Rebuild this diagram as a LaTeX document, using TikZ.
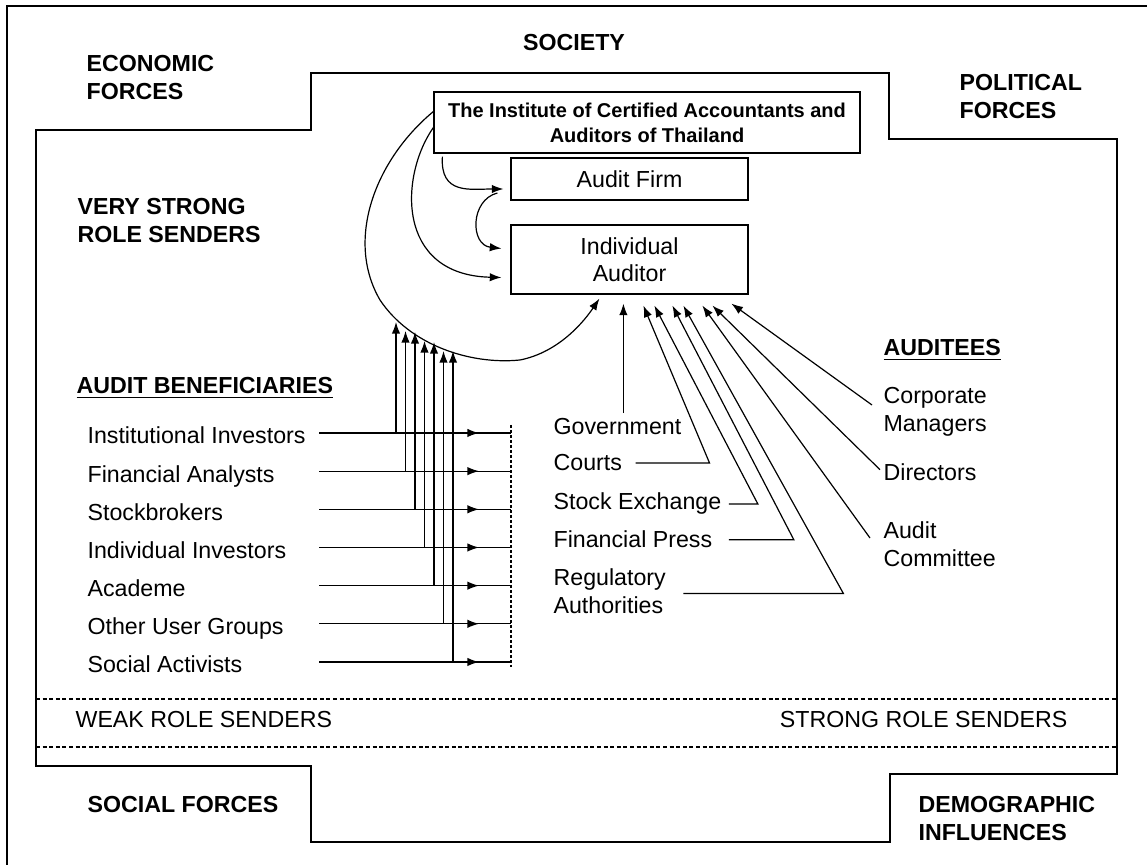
\documentclass[tikz,border=0pt]{standalone}
\usepackage{fontspec}
\setmainfont{Liberation Sans}
\usetikzlibrary{arrows.meta,calc}

\begin{document}
\begin{tikzpicture}[x=0.5pt,y=-0.5pt,line width=0.6pt,>={Latex[length=5.8pt,width=4.2pt]}]
        \tikzstyle{force}=[font=\fontsize{11.6}{14}\selectfont\bfseries,align=left,inner sep=0pt,anchor=west]
        \tikzstyle{member}=[font=\fontsize{11.6}{14}\selectfont,align=left,inner sep=0pt,anchor=base west]
        \tikzstyle{box}=[draw,align=center,inner sep=0pt,font=\fontsize{11.6}{13.5}\selectfont]
        \tikzstyle{link}=[draw,->]
        \tikzstyle{border}=[dash pattern=on 2pt off 1.3pt]
        \useasboundingbox (0,0) rectangle (1147,865);

        % outer frame and society outline
        \draw (1147,6) -- (7,6) -- (7,865);
        \draw (36,130) -- (311,130) -- (311,73) -- (889,73) -- (889,139) -- (1117,139)
          -- (1117,774) -- (890,774) -- (890,842) -- (311,842) -- (311,766) -- (36,766) -- cycle;
        \draw[border] (36,699) -- (1117,699);
        \draw[border] (36,747) -- (1117,747);

        % forces around society
        \node[force,anchor=center] (society) at (574,43) {SOCIETY};
        \node[force] (economic) at (86,77.5) {ECONOMIC\\FORCES};
        \node[force] (political) at (959,97) {POLITICAL\\FORCES};
        \node[force] (social) at (87,805) {SOCIAL FORCES};
        \node[force] (demographic) at (918,819) {DEMOGRAPHIC\\INFLUENCES};
        \node[force] (verystrong) at (77,221) {VERY STRONG\\ROLE SENDERS};
        \node[member,anchor=west] (weak) at (75,720) {WEAK ROLE SENDERS};
        \node[member,anchor=east] (strong) at (1068,720) {STRONG ROLE SENDERS};

        % the profession
        \node[box,minimum width=213pt,minimum height=30.5pt,font=\fontsize{10}{12.5}\selectfont\bfseries] (icaat) at (647,122.5) {The Institute of Certified Accountants and\\Auditors of Thailand};
        \node[box,minimum width=118.5pt,minimum height=21pt] (firm) at (629.5,179) {Audit Firm};
        \node[box,minimum width=118.5pt,minimum height=34.5pt] (auditor) at (629.5,259.5) {Individual\\Auditor};

        \path[link] ($(icaat.south west)+(9,3)$) .. controls (440,195) and (470,189) .. ($(firm.west)+(-7,10)$);
        \path[link] ($(firm.west)+(-13,14)$) .. controls (470,200) and (470,245) .. ($(auditor.west)+(-9,-11)$);
        \path[link] ($(icaat.west)+(0,5)$) .. controls (400,175) and (395,275) .. ($(auditor.west)+(-9,18)$);
        \path[link] ($(icaat.west)+(0,-11)$) .. controls (375,160) and (345,240) .. (380,300)
          .. controls (410,345) and (470,365) .. (520,360) .. controls (560,352) and (585,320) .. ($(auditor.south west)+(89,4)$);

        % audit beneficiaries
        \node[force] (benef) at (76,388) {\underline{AUDIT BENEFICIARIES}};
        \foreach \who [count=\i] in {Institutional Investors,Financial Analysts,Stockbrokers,Individual Investors,Academe,Other User Groups,Social Activists}
        {
          \node[member] (ben\i) at (87,405.8+38.17*\i) {\who};
          \coordinate (from\i) at (319,394.8+38.17*\i);
          \coordinate (end\i) at (511,394.8+38.17*\i);
          \draw (from\i) -- (end\i);
          \path[link] ($(from\i)+(150,0)$) -- ($(from\i)+(160,0)$);
        }
        \foreach \y [count=\i] in {322,331,332,341,342,351,351}
        {
          \coordinate (up\i) at (386.5+9.5*\i,\y);
          \path[link] (from\i -| up\i) -- (up\i);
        }
        \draw[dash pattern=on 1.5pt off 1pt] (end1) ++(0,-8) -- ($(end7)+(0,5)$);

        % strong role senders
        \node[member] (gov) at (553,435) {Government};
        \node[member] (crt) at (553,471) {Courts};
        \node[member] (sx) at (553,510) {Stock Exchange};
        \node[member] (fp) at (553,548) {Financial Press};
        \node[member,anchor=west] (ra) at (553,591.5) {Regulatory\\Authorities};

        \coordinate (tGov) at ($(auditor.south west)+(113,9)$);
        \coordinate (tCrt) at ($(auditor.south west)+(133,11)$);
        \coordinate (tSx) at ($(auditor.south west)+(144,11)$);
        \coordinate (tFp) at ($(auditor.south west)+(162,11)$);
        \coordinate (tRa) at ($(auditor.south west)+(173,11)$);
        \coordinate (tAc) at ($(auditor.south west)+(192,11)$);
        \coordinate (tDir) at ($(auditor.south west)+(202,11)$);
        \coordinate (tCm) at ($(auditor.south west)+(221,9)$);

        \path[link] ($(gov.north -| tGov)+(0,-5)$) -- (tGov);
        \path[link] ([xshift=6.5pt]crt.east) -- ++(74,0) -- (tCrt);
        \path[link] ([xshift=3.5pt]sx.east) -- ++(29,0) -- (tSx);
        \path[link] ([xshift=8pt]fp.east) -- ++(65,0) -- (tFp);
        \path[link] ([xshift=8.5pt,yshift=-1pt]ra.east) -- ++(160,0) -- (tRa);

        % auditees
        \node[force] (auditees) at (883,350) {\underline{AUDITEES}};
        \node[member,anchor=west] (cm) at (883,412) {Corporate\\Managers};
        \node[member] (dir) at (883,481) {Directors};
        \node[member,anchor=west] (ac) at (883,544) {Audit\\Committee};

        \path[link] ($(ac.west)+(-13,-6)$) -- (tAc);
        \path[link] ($(dir.west)+(-3,-3)$) -- (tDir);
        \path[link] ($(cm.west)+(-11,-7)$) -- (tCm);
\end{tikzpicture}
\end{document}
